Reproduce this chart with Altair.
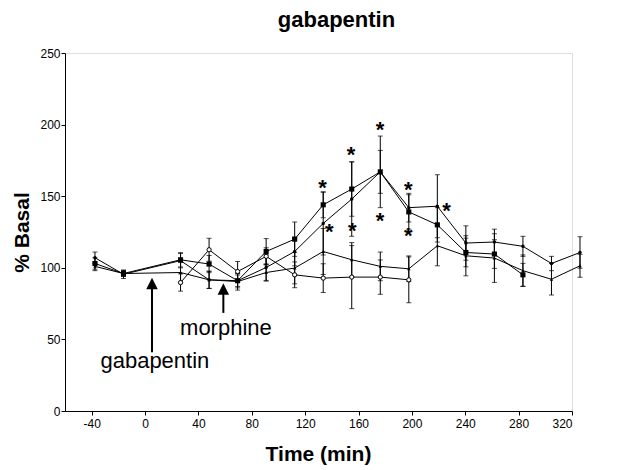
import altair as alt
import pandas as pd

FONT = "Liberation Sans"

# ---- data ----
times_all = [-40, -20, 20, 40, 60, 80, 100, 120, 140, 160, 180, 200, 220, 240, 260, 280, 300]

s1_times = [-40, -20, 20, 40, 60, 80, 100, 120, 140, 160, 180, 200, 220, 240, 260]
s1_vals = [103, 96, 105.6, 102.6, 91, 111.4, 120, 144, 155, 167, 139, 130, 110.7, 109.6, 95.1]
s1_err = [4, 2, 5, 6, 4, 9, 12, 9, 19, 25, 12, 12, 10, 10, 8]

s2_times = times_all
s2_vals = [107, 95.5, 105, 91.6, 91, 100.2, 111.4, 131, 148, 167, 142, 143, 117.3, 118, 115, 103, 110.7]
s2_err = [4, 3, 5, 6, 5, 9, 10, 22, 26, 15, 10, 22, 12, 9, 7, 5, 11]

s3_times = times_all
s3_vals = [101, 96, 96.7, 91.6, 90.4, 96.7, 99.8, 111.4, 105.6, 101, 99.3, 115.4, 108.4, 106.8, 98, 92, 101.4]
s3_err = [3, 2, 7, 6, 6, 6, 11, 16, 12, 10, 9, 14, 14, 17, 11, 11, 8]

s4_times = [20, 40, 60, 80, 100, 120, 140, 160, 180]
s4_vals = [89.7, 112.6, 97.4, 108, 95.1, 92.8, 93.5, 93.5, 91.6]
s4_err = [6, 8, 7, 6, 9, 10, 22, 12, 16]

# significance asterisks (time, value)
ast_t = [119.6, 124.3, 139.5, 140.4, 159.8, 159.8, 179.6, 179.6, 206.5]
ast_v = [159, 128.5, 182, 128.9, 200, 136.4, 158, 126, 143.4]

# drug application arrows
arrow_t = [0, 50]
arrow_tip = [89.0, 85.2]
arrow_base = [41, 68.5]
label_text = ["gabapentin", "morphine"]
label_t = [2, 51.8]
label_v = [30, 53.1]

x_ticks = [-40, 0, 40, 80, 120, 160, 200, 240, 280, 320]
y_ticks = [0, 50, 100, 150, 200, 250]

rows = []
for name, ts, vs, es in [("S1", s1_times, s1_vals, s1_err),
                         ("S2", s2_times, s2_vals, s2_err),
                         ("S3", s3_times, s3_vals, s3_err),
                         ("S4", s4_times, s4_vals, s4_err)]:
    for t, v, e in zip(ts, vs, es):
        rows.append(dict(series=name, time=t, value=v, lo=v - e, hi=v + e))
df = pd.DataFrame(rows)
ast_df = pd.DataFrame({"time": ast_t, "value": ast_v})
arr_df = pd.DataFrame({"time": arrow_t, "tip": arrow_tip, "base": arrow_base})
lab_df = pd.DataFrame({"time": label_t, "value": label_v, "text": label_text})

ys = alt.Scale(domain=[0, 250], nice=False, zero=False)
xs = alt.Scale(domain=[-61.0, 294.4], nice=False, zero=False)

yaxis = alt.Axis(values=y_ticks, title="% Basal", grid=False, domainColor="black",
                 tickColor="black", tickSize=4, labelPadding=1, labelFont=FONT,
                 labelFontSize=12, labelColor="black", titleFont=FONT, titleFontSize=21,
                 titleFontWeight="bold", titleColor="black", titleX=-37, titleY=179,
                 titleAlign="center", titleBaseline="alphabetic", titleAngle=-90)
xaxis = alt.Axis(values=x_ticks, title="Time (min)", grid=False, domainColor="black",
                 tickColor="black", tickSize=4, labelPadding=3, labelFont=FONT,
                 labelFontSize=12, labelColor="black", titleFont=FONT, titleFontSize=21,
                 titleFontWeight="bold", titleColor="black", titleX=253, titleY=49,
                 titleAlign="center", titleBaseline="alphabetic",
                 labelExpr="'' + datum.value")

axis_df = pd.DataFrame({"t": [-60, 320], "v": [0, 0]})
axis_layer = alt.Chart(axis_df).mark_point(opacity=0).encode(
    x=alt.X("t:Q", scale=alt.Scale(domain=[-60, 320], nice=False, zero=False), axis=xaxis),
    y=alt.Y("v:Q", scale=ys, axis=yaxis),
)

X = alt.X("time:Q", scale=xs, axis=None)
base = alt.Chart(df)

bars = base.mark_rule(color="black", strokeWidth=1).encode(
    x=X, y=alt.Y("lo:Q", scale=ys, axis=yaxis), y2="hi:Q")
cap_lo = base.mark_tick(color="black", orient="horizontal", size=5, thickness=1).encode(
    x=X, y=alt.Y("lo:Q", scale=ys, axis=yaxis))
cap_hi = base.mark_tick(color="black", orient="horizontal", size=5, thickness=1).encode(
    x=X, y=alt.Y("hi:Q", scale=ys, axis=yaxis))
lines = base.mark_line(color="black", strokeWidth=1).encode(
    x=X, y=alt.Y("value:Q", scale=ys, axis=yaxis), detail="series:N")

def pts(name, **kw):
    return base.transform_filter(alt.datum.series == name).mark_point(**kw).encode(
        x=X, y=alt.Y("value:Q", scale=ys, axis=yaxis))

p1 = pts("S1", shape="square", filled=True, color="black", size=26, opacity=1)
p2 = pts("S2", shape="circle", filled=True, color="black", size=12, opacity=1)
p3 = pts("S3", shape="triangle-up", filled=True, color="black", size=12, opacity=1)
p4 = pts("S4", shape="circle", filled=True, fill="white", stroke="black", strokeWidth=1,
         size=18, opacity=1)

stars = alt.Chart(ast_df).mark_text(text="*", font=FONT, fontSize=22, fontWeight="bold",
                                    color="black", baseline="alphabetic", dy=12).encode(
    x=X, y=alt.Y("value:Q", scale=ys, axis=yaxis))

shafts = alt.Chart(arr_df).mark_rule(color="black", strokeWidth=2).encode(
    x=X, y=alt.Y("base:Q", scale=ys, axis=yaxis), y2="tip:Q")
heads = alt.Chart(arr_df).mark_point(shape="M0,-1L1,1L-1,1Z", filled=True, color="black",
                                     size=132, opacity=1).encode(
    x=X, y=alt.Y("tip:Q", scale=ys, axis=yaxis))
labels = alt.Chart(lab_df).mark_text(font=FONT, fontSize=22, color="black",
                                     baseline="alphabetic", align="center").encode(
    x=X, y=alt.Y("value:Q", scale=ys, axis=yaxis), text="text:N")

data_layer = alt.layer(bars, cap_lo, cap_hi, lines, p1, p2, p3, p4, stars, shafts, heads, labels)

chart = alt.layer(axis_layer, data_layer).resolve_scale(x="independent").properties(
    width=507, height=358,
    autosize=alt.AutoSizeParams(type="none"),
    padding={"left": 65, "top": 53, "right": 46, "bottom": 59},
    title=alt.TitleParams("gabapentin", font=FONT, fontSize=22, fontWeight="bold",
                          anchor="middle", dx=18, offset=15, color="black"),
).configure_view(stroke=None).configure(background="white")

chart.save("out.html", embed_options={"renderer": "svg", "actions": False})
